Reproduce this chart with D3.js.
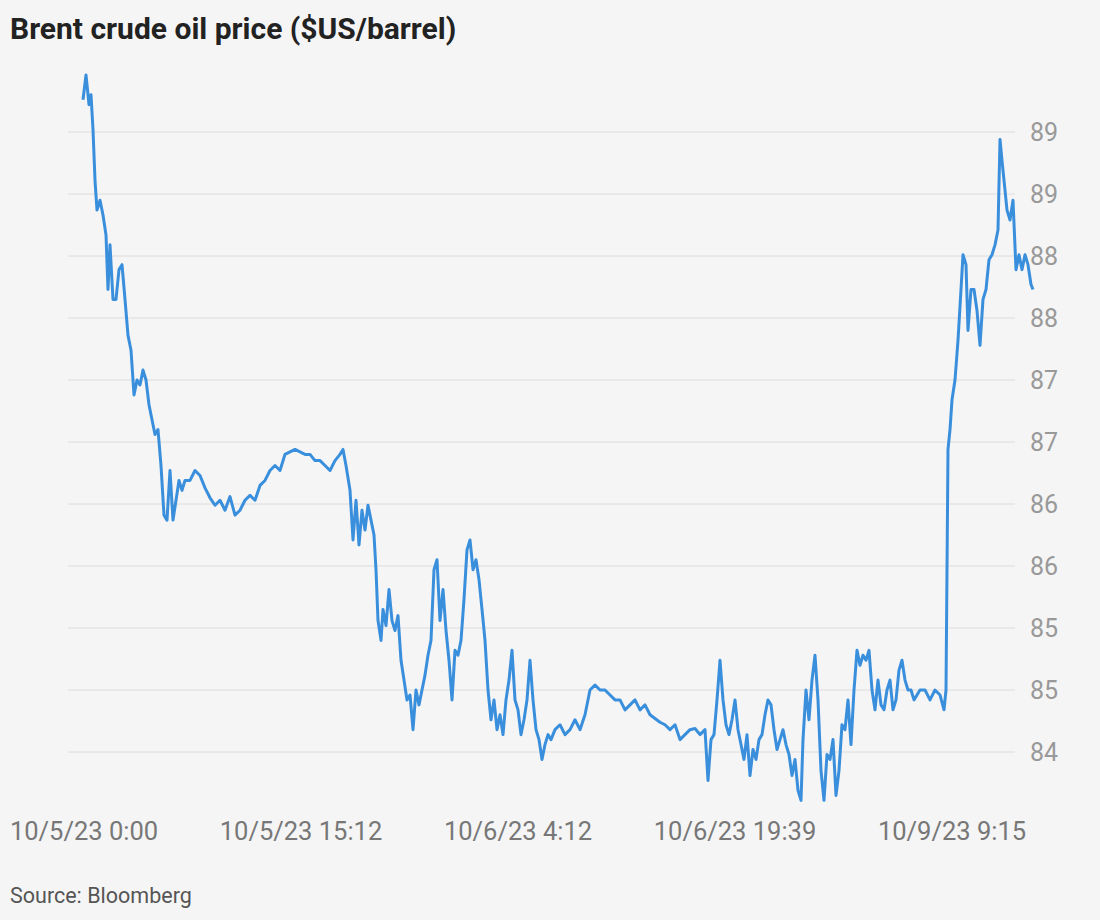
<!DOCTYPE html>
<html><head><meta charset="utf-8">
<script src="https://cdn.jsdelivr.net/npm/d3@7"></script>
<style>body{margin:0;background:#f5f5f5;}svg{display:block;}</style>
</head><body>
<script>
const title = "Brent crude oil price ($US/barrel)";
const source = "Source: Bloomberg";
const yTicks = [84,84.5,85,85.5,86,86.5,87,87.5,88,88.5,89];
const xTickPos = [1,218,435,652,869];
const xTickLabels = ["10/5/23 0:00","10/5/23 15:12","10/6/23 4:12","10/6/23 19:39","10/9/23 9:15"];
// [observation position, price]
const series = [
[0,89.26],[3,89.46],[6,89.22],[8,89.30],[10,89.02],[12,88.61],[14,88.37],[17,88.45],[20,88.33],[23,88.17],[25,87.73],[27,88.09],[30,87.65],[33,87.65],[36,87.89],[39,87.93],[42,87.65],[45,87.36],[48,87.24],[51,86.88],[54,87.00],[57,86.96],[60,87.08],[63,87.00],[66,86.80],[69,86.68],[72,86.56],[75,86.60],[78,86.31],[81,85.91],[84,85.87],[87,86.27],[90,85.87],[93,86.03],[96,86.19],[99,86.11],[102,86.19],[107,86.19],[112,86.27],[117,86.23],[122,86.13],[127,86.05],[132,85.99],[137,86.03],[142,85.95],[147,86.06],[152,85.91],[157,85.95],[162,86.03],[167,86.07],[172,86.03],[177,86.15],[182,86.19],[187,86.27],[192,86.31],[197,86.27],[202,86.40],[207,86.42],[212,86.44],[217,86.42],[222,86.40],[227,86.40],[232,86.35],[237,86.35],[242,86.31],[247,86.27],[252,86.35],[257,86.40],[260,86.44],[263,86.31],[267,86.11],[270,85.71],[273,86.03],[276,85.67],[279,85.95],[282,85.79],[285,85.99],[288,85.87],[291,85.75],[293,85.47],[295,85.06],[298,84.90],[300,85.15],[303,85.02],[306,85.31],[309,85.06],[312,84.98],[315,85.10],[318,84.74],[321,84.58],[324,84.42],[327,84.46],[330,84.18],[333,84.50],[336,84.38],[339,84.50],[342,84.62],[345,84.78],[348,84.90],[351,85.47],[354,85.55],[357,85.06],[360,85.31],[363,84.98],[366,84.74],[369,84.42],[372,84.82],[375,84.78],[378,84.90],[381,85.23],[384,85.63],[387,85.71],[390,85.47],[393,85.55],[396,85.39],[399,85.15],[402,84.90],[405,84.50],[408,84.26],[411,84.42],[414,84.18],[417,84.30],[420,84.14],[423,84.42],[426,84.58],[429,84.82],[432,84.42],[435,84.34],[438,84.14],[441,84.26],[444,84.42],[447,84.74],[450,84.42],[453,84.18],[456,84.10],[459,83.94],[462,84.06],[465,84.14],[468,84.10],[472,84.18],[477,84.22],[482,84.14],[487,84.18],[492,84.26],[497,84.18],[502,84.30],[507,84.50],[512,84.54],[517,84.50],[522,84.50],[527,84.46],[532,84.42],[537,84.42],[542,84.34],[547,84.38],[552,84.42],[557,84.34],[562,84.38],[567,84.30],[572,84.27],[577,84.24],[582,84.22],[587,84.18],[592,84.22],[597,84.10],[602,84.14],[607,84.18],[612,84.19],[617,84.14],[622,84.18],[625,83.77],[628,84.10],[631,84.14],[634,84.42],[637,84.74],[640,84.42],[643,84.22],[646,84.14],[649,84.26],[652,84.42],[655,84.18],[658,84.06],[661,83.94],[664,84.14],[667,83.81],[670,84.02],[673,83.94],[676,84.10],[679,84.14],[682,84.30],[685,84.42],[688,84.38],[691,84.18],[694,84.02],[697,84.10],[700,84.18],[703,84.06],[706,83.98],[709,83.81],[712,83.94],[715,83.69],[718,83.61],[720,84.10],[723,84.50],[726,84.26],[729,84.58],[732,84.78],[735,84.42],[738,83.85],[741,83.61],[744,83.98],[747,83.94],[750,84.10],[753,83.65],[756,83.85],[759,84.22],[762,84.18],[765,84.42],[768,84.06],[771,84.50],[774,84.82],[777,84.70],[780,84.78],[783,84.74],[786,84.82],[789,84.50],[792,84.34],[795,84.58],[798,84.38],[801,84.34],[804,84.50],[807,84.58],[810,84.34],[813,84.42],[816,84.66],[819,84.74],[822,84.58],[825,84.50],[828,84.50],[831,84.42],[834,84.46],[837,84.50],[842,84.50],[847,84.42],[852,84.50],[857,84.46],[861,84.34],[863,84.50],[865,86.44],[867,86.60],[869,86.84],[872,87.00],[875,87.32],[878,87.73],[880,88.01],[883,87.93],[885,87.40],[888,87.73],[891,87.73],[894,87.56],[897,87.28],[900,87.65],[903,87.73],[906,87.97],[909,88.01],[912,88.09],[915,88.21],[917,88.94],[919,88.77],[921,88.61],[924,88.37],[927,88.29],[930,88.45],[933,87.89],[936,88.01],[939,87.89],[942,88.01],[945,87.93],[948,87.77],[950,87.73]
];

const W=1100,H=920;
const svg=d3.select("body").append("svg").attr("width",W).attr("height",H).style("background","#f5f5f5");
const x=d3.scaleLinear().domain([0,950]).range([83,1033]);
const y=d3.scaleLinear().domain([84,89]).range([752,132]);

svg.append("text").attr("x",10).attr("y",39).text(title)
  .style("font-family","Roboto, sans-serif").style("font-weight","700").style("font-size","30px").style("fill","#222");

svg.append("g").selectAll("line").data(yTicks).join("line")
  .attr("x1",68).attr("x2",1015).attr("y1",d=>y(d)).attr("y2",d=>y(d))
  .attr("stroke","#dcdcdc").attr("stroke-width",1);
svg.append("g").selectAll("text").data(yTicks).join("text")
  .attr("x",1030).attr("y",d=>y(d)+9).text(d=>d3.format(".0f")(d))
  .style("font-family","Roboto, sans-serif").style("font-size","25px").style("fill","#999");

svg.append("g").selectAll("text").data(xTickPos).join("text")
  .attr("x",d=>x(d)).attr("y",840).attr("text-anchor","middle").text((d,i)=>xTickLabels[i])
  .style("font-family","Roboto, sans-serif").style("font-size","25.5px").style("fill","#777");

svg.append("path").datum(series)
  .attr("d",d3.line().x(d=>x(d[0])).y(d=>y(d[1])))
  .attr("fill","none").attr("stroke","#3a8fdd").attr("stroke-width",3).attr("stroke-linejoin","round");

svg.append("text").attr("x",10).attr("y",903).text(source)
  .style("font-family","Roboto, sans-serif").style("font-size","21.5px").style("fill","#555");
</script>
</body></html>
